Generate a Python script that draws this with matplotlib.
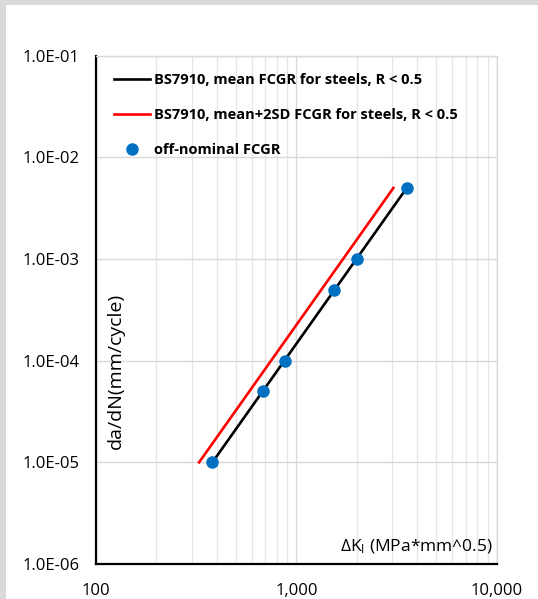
import matplotlib
matplotlib.use("Agg")
import matplotlib.pyplot as plt
from matplotlib.patches import Rectangle
from matplotlib.ticker import FixedLocator, LogLocator, NullFormatter

plt.rcParams["font.family"] = ["Open Sans", "DejaVu Sans"]
plt.rcParams["mathtext.default"] = "regular"

# BS7910 curves, read as two end points each
dk_mean = [381, 3556]
rate_mean = [1e-5, 5e-3]
dk_2sd = [327, 3050]
rate_2sd = [1e-5, 5e-3]

# off-nominal points
dk_pts = [381, 682, 875, 1549, 2005, 3556]
rate_pts = [1e-5, 5e-5, 1e-4, 5e-4, 1e-3, 5e-3]

x_ticks = [100, 1000, 10000]
y_ticks = [1e-6, 1e-5, 1e-4, 1e-3, 1e-2, 1e-1]

fig = plt.figure(figsize=(5.38, 5.99), dpi=100, facecolor="#d9d9d9")
fig.patches.append(Rectangle((6 / 538, 0), 1, 594 / 599, transform=fig.transFigure,
                             facecolor="white", edgecolor="none", zorder=-10))
ax = fig.add_axes([96 / 538, 35 / 599, 400.7 / 538, 508.3 / 599])
ax.set_facecolor("white")

ax.plot(dk_mean, rate_mean, color="black", lw=1.9,
        label="BS7910, mean FCGR for steels, R < 0.5", zorder=3)
ax.plot(dk_2sd, rate_2sd, color="#ff0000", lw=1.9,
        label="BS7910, mean+2SD FCGR for steels, R < 0.5", zorder=3)
ax.plot(dk_pts, rate_pts, "o", color="#0070c0", ms=8,
        label="off-nominal FCGR", zorder=4)

ax.set_xscale("log")
ax.set_yscale("log")
ax.set_xlim(100, 10000)
ax.set_ylim(1e-6, 1e-1)

ax.xaxis.set_major_locator(FixedLocator(x_ticks))
ax.xaxis.set_minor_locator(LogLocator(base=10, subs=range(2, 10)))
ax.xaxis.set_minor_formatter(NullFormatter())
ax.set_xticklabels([f"{v:,}" for v in x_ticks])
ax.yaxis.set_major_locator(FixedLocator(y_ticks))
ax.yaxis.set_minor_locator(FixedLocator([]))
ax.set_yticklabels([f"{v:.1E}" for v in y_ticks])

ax.grid(True, which="major", color="#d9d9d9", lw=1.0)
ax.grid(True, which="minor", axis="x", color="#e6e6e6", lw=0.9)
ax.set_axisbelow(True)

ax.tick_params(which="both", length=0, labelsize=12, colors="black")
ax.tick_params(axis="y", pad=12)
ax.tick_params(axis="x", pad=14)

for s in ["left", "bottom"]:
    ax.spines[s].set_color("black")
    ax.spines[s].set_linewidth(1.6)
for s in ["top", "right"]:
    ax.spines[s].set_color("#d9d9d9")
    ax.spines[s].set_linewidth(1.0)

ax.text(0.05, 0.38, "da/dN(mm/cycle)", transform=ax.transAxes, rotation=90,
        ha="center", va="center", fontsize=14)
ax.text(0.99, 0.016, "ΔK$_{I}$ (MPa*mm^0.5)", transform=ax.transAxes,
        ha="right", va="bottom", fontsize=12.5)

leg = ax.legend(loc="upper left", bbox_to_anchor=(0.0, 1.0), frameon=False,
                prop={"weight": "bold", "size": 10.5}, handlelength=2.5,
                handletextpad=0.3, labelspacing=1.45, borderaxespad=0.8)

fig.savefig("out.png", dpi=100, facecolor=fig.get_facecolor())
